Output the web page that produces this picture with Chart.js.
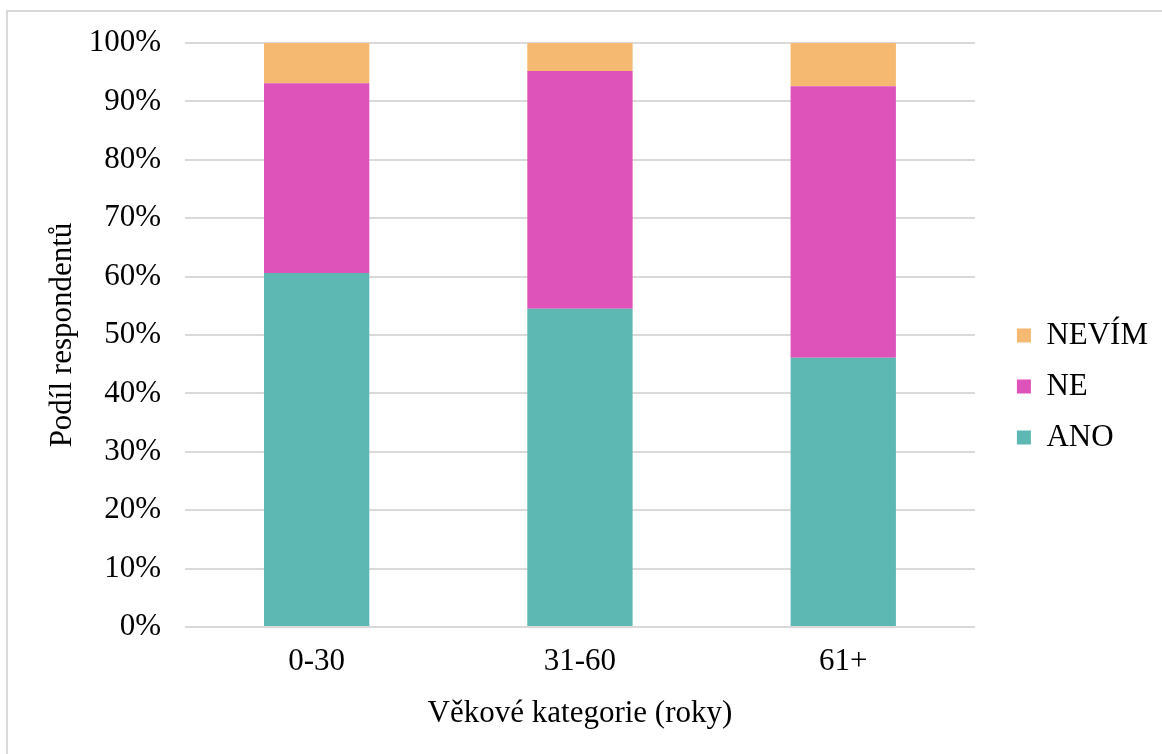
<!DOCTYPE html>
<html>
<head>
<meta charset="utf-8">
<script src="https://cdn.jsdelivr.net/npm/chart.js@4"></script>
<style>
    html, body { margin: 0; padding: 0; background: #fff; overflow: hidden; }
    #frame {
        position: absolute; left: 6px; top: 10px;
        width: 1200px; height: 800px;
        border: 2px solid #d9d9d9;
    }
    #wrap { position: absolute; left: 0; top: 0; width: 1162px; height: 754px; }
</style>
</head>
<body>
<div id="frame"></div>
<div id="wrap"><canvas id="chart"></canvas></div>
<script>
// age groups
const categories = ["0-30", "31-60", "61+"];
// share of respondents in %
const anoValues = [60.6, 54.5, 46.1];
const neValues = [32.5, 40.7, 46.5];
const nevimValues = [6.9, 4.8, 7.4];
const yTicks = [0, 10, 20, 30, 40, 50, 60, 70, 80, 90, 100];

const serif = "'Liberation Serif', 'Times New Roman', serif";
const fontSize = 31;
Chart.defaults.font.family = serif;
Chart.defaults.color = "#000";

// move the legend a bit right / up, like in the original
const legendShift = {
    id: 'legendShift',
    afterLayout(chart) {
        const lg = chart.legend;
        if (!lg) return;
        lg.left += 22; lg.right += 22;
        lg.top -= 12; lg.bottom -= 12;
    }
};

const ctx = document.getElementById("chart").getContext("2d");
new Chart(ctx, {
    type: 'bar',
    data: {
        labels: categories,
        datasets: [
            { label: 'ANO', data: anoValues, backgroundColor: '#5db8b4' },
            { label: 'NE', data: neValues, backgroundColor: '#de53b9' },
            { label: 'NEVÍM', data: nevimValues, backgroundColor: '#f5b971' }
        ]
    },
    plugins: [legendShift],
    options: {
        responsive: true,
        maintainAspectRatio: false,
        animation: false,
        layout: { padding: { top: 43, right: 26, bottom: 0, left: 0 } },
        datasets: { bar: { categoryPercentage: 1, barPercentage: 0.4 } },
        plugins: {
            tooltip: { enabled: false },
            legend: {
                position: 'right',
                reverse: true,
                labels: {
                    boxWidth: 14,
                    boxHeight: 14,
                    padding: 20,
                    font: { size: fontSize }
                }
            }
        },
        scales: {
            x: {
                stacked: true,
                grid: { display: false },
                border: { display: false },
                ticks: { font: { size: fontSize }, padding: 8 },
                title: {
                    display: true,
                    text: 'Věkové kategorie (roky)',
                    font: { size: fontSize },
                    padding: { top: 4, bottom: 22 }
                },
                afterFit: s => { s.height = 127; }
            },
            y: {
                stacked: true,
                min: 0,
                max: 100,
                afterBuildTicks: s => { s.ticks = yTicks.map(v => ({ value: v })); },
                grid: { color: '#d9d9d9', lineWidth: 2, drawTicks: false },
                border: { display: false },
                ticks: {
                    font: { size: fontSize },
                    padding: 24,
                    callback: v => v + '%'
                },
                title: {
                    display: true,
                    text: 'Podíl respondentů',
                    font: { size: fontSize },
                    padding: { top: 44, bottom: 0 }
                },
                afterFit: s => { s.width = 185; }
            }
        }
    }
});
</script>
</body>
</html>
